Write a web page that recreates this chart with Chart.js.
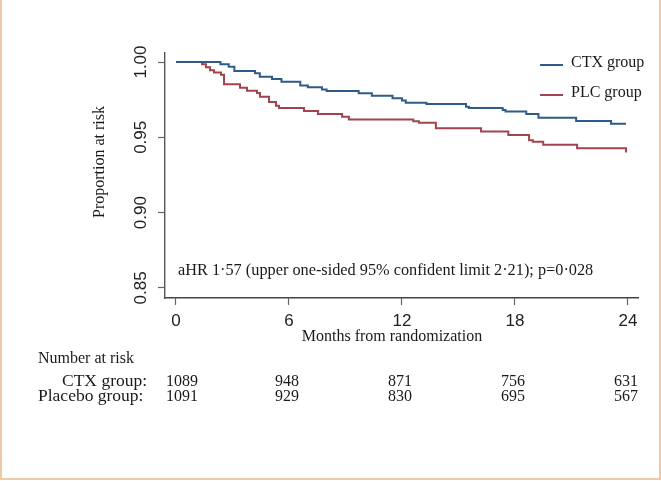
<!DOCTYPE html>
<html><head><meta charset="utf-8">
<script src="https://cdn.jsdelivr.net/npm/chart.js@4.4.1/dist/chart.umd.min.js"></script>
<style>html,body{margin:0;padding:0;background:#fff;overflow:hidden}canvas{display:block}</style>
</head><body>
<canvas id="c" width="661" height="481"></canvas>
<script>
const xTicks = [0, 6, 12, 18, 24];
const yTicks = [0.85, 0.90, 0.95, 1.00];
const seriesNames = ['CTX group', 'PLC group'];
const ctxTimes = [0, 2.36, 2.80, 3.10, 4.20, 4.45, 5.10, 5.60, 6.60, 7.00, 7.75, 8.00, 9.70, 10.40, 11.50, 12.00, 12.20, 13.30, 15.40, 15.55, 17.35, 17.50, 18.60, 19.25, 21.25, 23.10, 23.90];
const ctxSurv  = [1.000, 0.9985, 0.9968, 0.9940, 0.9925, 0.9902, 0.9887, 0.9869, 0.9845, 0.9832, 0.9818, 0.9808, 0.9792, 0.9776, 0.9759, 0.9745, 0.9730, 0.9721, 0.9703, 0.9695, 0.9681, 0.9672, 0.9655, 0.9630, 0.9608, 0.9590, 0.9590];
const plcTimes = [0, 1.38, 1.59, 1.81, 2.02, 2.39, 2.55, 3.40, 3.77, 4.30, 4.46, 4.94, 5.31, 5.47, 6.80, 7.54, 8.82, 9.18, 12.60, 12.90, 13.80, 16.20, 17.65, 18.75, 18.95, 19.50, 21.30, 23.90];
const plcSurv  = [1.000, 0.9985, 0.9965, 0.9946, 0.9930, 0.9916, 0.9853, 0.9829, 0.9810, 0.9795, 0.9770, 0.9735, 0.9709, 0.9694, 0.9675, 0.9655, 0.9637, 0.9618, 0.9606, 0.9597, 0.9560, 0.9538, 0.9516, 0.9480, 0.9471, 0.9450, 0.9427, 0.9400];
const riskLabels = ['CTX group:', 'Placebo group:'];
const riskCTX = [1089, 948, 871, 756, 631];
const riskPLC = [1091, 929, 830, 695, 567];
const annotationText = 'aHR 1\u00b757 (upper one-sided 95% confident limit 2\u00b721); p=0\u00b7028';

const BLUE = '#2f5b88';
const RED = '#a3434d';
const SERIF = '"Liberation Serif", "Times New Roman", serif';
const SANS = '"Liberation Sans", Arial, sans-serif';

const pts = (t, s) => t.map((v, i) => ({x: v, y: s[i]}));

const extras = {
  id: 'extras',
  afterDraw(chart) {
    const c = chart.ctx;
    const xs = chart.scales.x;
    c.save();
    c.fillStyle = '#1a1a1a';
    // y title
    c.save();
    c.translate(100, 162);
    c.rotate(-Math.PI / 2);
    c.font = '16px ' + SERIF;
    c.textAlign = 'center';
    c.textBaseline = 'middle';
    c.fillText('Proportion at risk', 0, 0);
    c.restore();
    // x title
    c.font = '16px ' + SERIF;
    c.textAlign = 'center';
    c.textBaseline = 'alphabetic';
    c.fillText('Months from randomization', 392, 341);
    // annotation
    c.font = '16.3px ' + SERIF;
    c.textAlign = 'left';
    c.fillText(annotationText, 178, 275);
    // legend
    const cols = [BLUE, RED];
    seriesNames.forEach((n, i) => {
      const y = 65 + i * 30;
      c.strokeStyle = cols[i];
      c.lineWidth = 2;
      c.beginPath(); c.moveTo(540, y); c.lineTo(563, y); c.stroke();
      c.font = '16px ' + SERIF;
      c.textAlign = 'left';
      c.fillText(n, 571, y + 2);
    });
    // number at risk table
    c.font = '16px ' + SERIF;
    c.textAlign = 'left';
    c.fillText('Number at risk', 38, 363);
    c.font = '17.5px ' + SERIF;
    c.fillText(riskLabels[0], 62, 386);
    c.fillText(riskLabels[1], 38, 401);
    c.font = '16px ' + SERIF;
    c.textAlign = 'center';
    xTicks.forEach((t, i) => {
      const px = xs.getPixelForValue(t) + (i === 0 ? 6 : -2);
      c.fillText(String(riskCTX[i]), px, 386);
      c.fillText(String(riskPLC[i]), px, 401);
    });
    // outer frame
    c.strokeStyle = '#efc8a6';
    c.lineWidth = 2;
    c.beginPath();
    c.moveTo(1, 0); c.lineTo(1, 479); c.lineTo(660, 479); c.lineTo(660, 0);
    c.stroke();
    c.restore();
  }
};

new Chart(document.getElementById('c'), {
  type: 'line',
  data: {
    datasets: [
      {label: seriesNames[0], data: pts(ctxTimes, ctxSurv), borderColor: BLUE, borderWidth: 2, stepped: true, pointRadius: 0, fill: false},
      {label: seriesNames[1], data: pts(plcTimes, plcSurv), borderColor: RED, borderWidth: 2, stepped: true, pointRadius: 0, fill: false}
    ]
  },
  options: {
    responsive: false,
    animation: false,
    events: [],
    layout: {padding: {left: 125, right: 23, top: 53, bottom: 153}},
    plugins: {legend: {display: false}, tooltip: {enabled: false}},
    scales: {
      x: {
        type: 'linear', min: -0.584, max: 24.535,
        afterBuildTicks: s => { s.ticks = xTicks.map(v => ({value: v})); },
        afterFit: s => { s.height = 30; },
        grid: {drawOnChartArea: false, drawTicks: true, tickLength: 7, color: '#666', tickWidth: 1.2},
        border: {display: true, color: '#444', width: 1.4},
        ticks: {font: {family: SANS, size: 17}, color: '#222', padding: 6, maxRotation: 0, callback: v => String(v)}
      },
      y: {
        type: 'linear', min: 0.8433, max: 1.006,
        afterBuildTicks: s => { s.ticks = yTicks.map(v => ({value: v})); },
        afterFit: s => { s.width = 40; },
        grid: {drawOnChartArea: false, drawTicks: true, tickLength: 7, color: '#666', tickWidth: 1.2},
        border: {display: true, color: '#555', width: 1.4},
        ticks: {font: {family: SANS, size: 17}, color: '#222', padding: 0, minRotation: 90, maxRotation: 90, crossAlign: 'center', callback: v => v.toFixed(2)}
      }
    }
  },
  plugins: [extras]
});
</script>
</body></html>
